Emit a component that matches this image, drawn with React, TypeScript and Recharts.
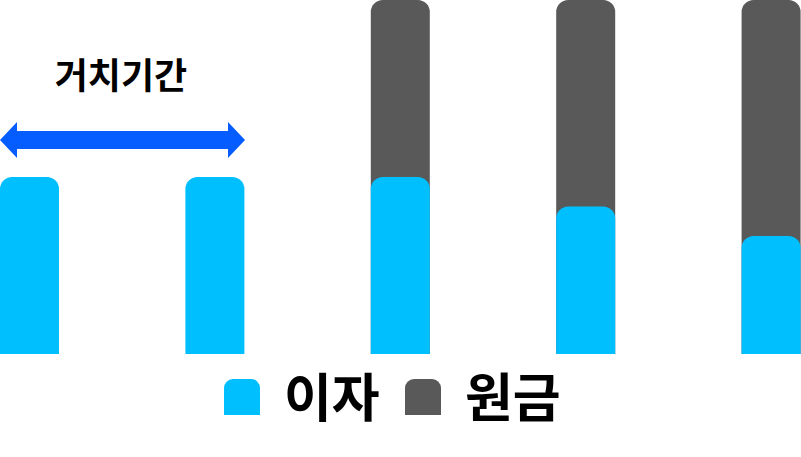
import React from "react";
import { BarChart, Bar, XAxis, YAxis } from "recharts";

const periods = ["1", "2", "3", "4", "5"];
const interest = [6, 6, 6, 5, 4];
const principal = [0, 0, 12, 12, 12];
const seriesNames = ["이자", "원금"];
const annotationLabel = "거치기간";

const BLUE = "#00BFFF";
const GREY = "#595959";
const ARROW = "#055CFF";
const FONT = "'Noto Sans CJK KR', 'Noto Sans', sans-serif";

const data = periods.map((p, i) => ({
  period: p,
  interest: interest[i],
  principal: principal[i],
}));

const Annotation = () => (
  <svg
    width={801}
    height={200}
    style={{ position: "absolute", left: 0, top: 0, pointerEvents: "none" }}
  >
    <text
      x={121}
      y={89}
      textAnchor="middle"
      fontFamily={FONT}
      fontWeight={700}
      fontSize={36}
      fill="#000"
    >
      {annotationLabel}
    </text>
    <polygon
      points="0,140 17,122 17,131 228,131 228,122 245,140 228,158 228,149 17,149 17,158"
      fill={ARROW}
    />
  </svg>
);

const LegendBlock = () => {
  const items = [
    { name: seriesNames[0], color: BLUE },
    { name: seriesNames[1], color: GREY },
  ];
  return (
    <div style={{ position: "absolute", left: 0, top: 0, width: 801, height: 457, pointerEvents: "none" }}>
      {items.map((it, i) => {
        const left = 224 + i * 181;
        return (
          <React.Fragment key={it.name}>
            <div
              style={{
                position: "absolute",
                left,
                top: 379,
                width: 36,
                height: 36,
                background: it.color,
                borderRadius: "9px 9px 0 0",
              }}
            />
            <div
              style={{
                position: "absolute",
                left: left + 60,
                top: 365,
                height: 60,
                fontFamily: FONT,
                fontWeight: 700,
                fontSize: 52,
                lineHeight: "60px",
                color: "#000",
                whiteSpace: "nowrap",
              }}
            >
              {it.name}
            </div>
          </React.Fragment>
        );
      })}
    </div>
  );
};

export default function App() {
  return (
    <div
      style={{
        position: "absolute",
        left: 0,
        top: 0,
        width: 801,
        height: 457,
        background: "#fff",
        overflow: "hidden",
      }}
    >
      <div style={{ position: "absolute", left: -63, top: 0 }}>
        <BarChart
          width={927}
          height={354}
          data={data}
          margin={{ top: 0, right: 0, bottom: 0, left: 0 }}
        >
          <XAxis xAxisId="back" dataKey="period" hide />
          <XAxis xAxisId="front" dataKey="period" hide />
          <YAxis hide domain={[0, 12]} />
          <Bar
            xAxisId="back"
            dataKey="principal"
            name={seriesNames[1]}
            fill={GREY}
            barSize={59}
            radius={[12, 12, 0, 0]}
            isAnimationActive={false}
          />
          <Bar
            xAxisId="front"
            dataKey="interest"
            name={seriesNames[0]}
            fill={BLUE}
            barSize={59}
            radius={[12, 12, 0, 0]}
            isAnimationActive={false}
          />
        </BarChart>
      </div>
      <Annotation />
      <LegendBlock />
    </div>
  );
}
